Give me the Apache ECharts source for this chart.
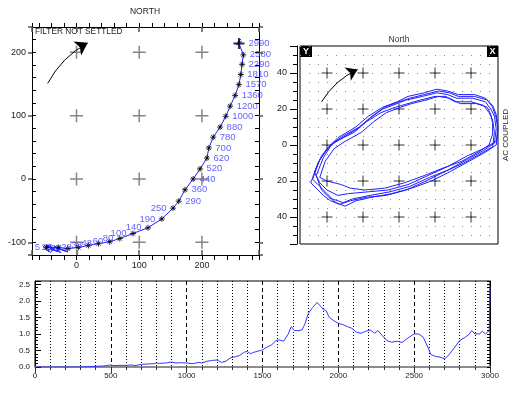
<!DOCTYPE html>
<html><head><meta charset="utf-8">
<script src="https://cdn.jsdelivr.net/npm/echarts@6/dist/echarts.min.js"></script>
<style>html,body{margin:0;padding:0;background:#fff}#c{width:521px;height:396px}</style>
</head><body><div id="c"></div>
<script>
// ---------- Panel 1 : track with time labels ----------
const trackTimes = ['5','13','20','28','38','48','60','80','100','140','190','250','290','360','440','520','620','700','780','880','1000','1200','1360','1570','1810','2290','2580','2990'];
const trackX = [-48,-29,-14,3,19,35,53,69,90,114,136,154,163,173,186,197,208,211,218,229,238,245,253,259,262,264,266,259];
const trackY = [-108,-108,-110,-108,-105,-102,-99,-94,-86,-77,-63,-46,-35,-17,0,16,33,49,66,82,99,115,132,149,165,181,196,214];
const labelLeftCount = 12;
const startScribbleX = [-40,-50,-44,-53,-46,-38,-49,-42,-35,-47,-30,-41,-25,-36,-20,-14,-33,-48];
const startScribbleY = [-104,-110,-115,-106,-113,-108,-104,-116,-110,-107,-114,-111,-116,-106,-113,-115,-109,-108];
const endScribbleX = [263,255,262,257,261];
const endScribbleY = [217,212,221,216,213];
const crossX1 = [0,100,200];
const crossY1 = [-100,0,100,200];
const arrow1 = [[-46,151],[18,215]];

// ---------- Panel 2 : hodograph loops ----------
const loopA = [[-48,-19],[-44,-8],[-38,0],[-33,3],[-23,9],[-16,15],[-9,20],[-1,23],[4,25],[13,27],[21,29],[27,28],[32,26],[41,26],[48,24],[51,20],[53,16],[54,9],[53,1],[47,-3],[38,-8],[27,-14],[17,-18],[6,-23],[-5,-26],[-16,-28],[-26,-30],[-31,-32],[-37,-30],[-40,-27],[-44,-23],[-48,-19]];
const loopB = [[-46,-17],[-42,-7],[-37,1],[-31,5],[-22,10],[-15,16],[-8,21],[0,24],[6,26],[14,28],[22,30],[28,29],[33,27],[42,27],[49,25],[52,21],[54,15],[55,8],[54,0],[48,-4],[39,-9],[28,-15],[18,-20],[7,-24],[-4,-27],[-15,-29],[-24,-31],[-30,-34],[-35,-32],[-39,-29],[-43,-25],[-46,-17]];
const loopC = [[-49,-21],[-45,-10],[-40,-2],[-35,2],[-25,7],[-18,13],[-10,18],[-2,21],[5,23],[12,25],[20,27],[26,27],[31,24],[40,24],[47,22],[50,18],[52,14],[53,7],[52,-1],[45,-5],[36,-10],[25,-15],[15,-20],[4,-25],[-7,-28],[-18,-29],[-27,-31],[-33,-33],[-38,-31],[-42,-28],[-46,-24],[-49,-21]];
const loopD = [[-44,-18],[-41,-9],[-36,-2],[-30,2],[-21,7],[-14,13],[-7,18],[1,21],[7,23],[15,25],[22,27],[28,26],[34,23],[43,23],[49,21],[51,17],[52,12],[52,6],[50,0],[44,-4],[35,-9],[24,-13],[14,-17],[3,-21],[-8,-24],[-19,-25],[-27,-24],[-32,-22],[-36,-21],[-40,-20],[-44,-18]];
const loopE = [[-47,-15],[-43,-6],[-39,-1],[-34,4],[-24,10],[-17,16],[-9,21],[-1,24],[5,27],[14,29],[21,31],[27,30],[33,28],[42,28],[48,26],[52,22],[54,17],[55,10],[54,2],[47,-2],[38,-6],[27,-12],[16,-17],[5,-22],[-6,-25],[-17,-26],[-28,-27],[-34,-28],[-40,-25],[-44,-21],[-47,-15]];
const crossX2 = [-40,-20,0,20,40];
const crossY2 = [-40,-20,0,20,40];
const arrow2 = [[-43,24],[-23,42]];

// ---------- Panel 3 : spectrum ----------
const specX = [0,100,200,300,350,400,450,480,500,520,560,600,640,660,700,740,780,800,820,860,900,930,960,1000,1040,1080,1100,1130,1170,1200,1230,1260,1290,1320,1350,1380,1400,1420,1440,1480,1500,1530,1560,1590,1610,1640,1670,1690,1710,1740,1760,1780,1800,1830,1860,1880,1900,1920,1940,1970,2000,2030,2060,2090,2120,2150,2180,2210,2240,2260,2290,2320,2350,2390,2420,2460,2500,2530,2560,2590,2610,2640,2670,2700,2720,2760,2800,2830,2860,2880,2900,2930,2950,2970,2995,3000];
const specY = [0,0,0,0,0.01,0.02,0.03,0.05,0.06,0.04,0.05,0.05,0.06,0.04,0.08,0.09,0.1,0.12,0.11,0.12,0.15,0.12,0.13,0.12,0.1,0.14,0.12,0.17,0.2,0.21,0.14,0.18,0.28,0.31,0.35,0.45,0.47,0.4,0.44,0.49,0.52,0.6,0.67,0.8,0.82,0.78,1.0,1.22,1.1,1.1,1.12,1.3,1.6,1.8,1.95,1.85,1.75,1.7,1.5,1.4,1.32,1.28,1.22,1.17,1.05,1.02,1.08,1.12,1.02,1.1,0.95,0.8,0.75,0.78,0.74,0.88,1.0,1.0,0.9,0.6,0.38,0.32,0.3,0.25,0.32,0.55,0.8,0.88,0.98,1.1,1.0,1.0,1.08,1.0,1.1,2.4];

// ---------- build ----------
const FONT = 'Liberation Sans';
const TXT = '#222';
const plusPath = 'path://M5,0L5,10M0,5L10,5';
const starPath = 'path://M5,0L5,10M0,5L10,5M1.5,1.5L8.5,8.5M1.5,8.5L8.5,1.5';
const fmt100 = v => (Math.abs(v - Math.round(v / 100) * 100) < 1e-6 ? String(Math.round(v)) : '');

const trackLine = [];
startScribbleX.forEach((x, i) => trackLine.push([x, startScribbleY[i]]));
trackX.forEach((x, i) => trackLine.push([x, trackY[i]]));
endScribbleX.forEach((x, i) => trackLine.push([x, endScribbleY[i]]));

const stars = trackX.map((x, i) => {
  const last = i === trackX.length - 1;
  return {
    value: [x, trackY[i]], name: trackTimes[i],
    symbol: last ? plusPath : starPath,
    symbolSize: last ? 11 : 6,
    itemStyle: last ? {color: 'transparent', borderColor: '#000', borderWidth: 2} : undefined,
    label: {position: i < labelLeftCount ? 'left' : 'right', distance: 3}
  };
});
const cross1 = [];
crossX1.forEach(x => crossY1.forEach(y => cross1.push([x, y])));
const cross2 = [];
crossX2.forEach(x => crossY2.forEach(y => cross2.push([x, y])));

const lbl = (o) => Object.assign({fontFamily: FONT, color: TXT}, o);
const line = (show, extra) => Object.assign({show: show, onZero: false, lineStyle: {color: '#000', width: 1}}, extra || {});

const option = {
  animation: false,
  backgroundColor: '#fff',
  grid: [
    {left: 32, top: 27, width: 227, height: 228, show: false},
    {left: 300, top: 46, width: 198, height: 198, show: true, borderColor: '#000', borderWidth: 1, backgroundColor: 'transparent'},
    {left: 35, top: 281, width: 455, height: 86, show: true, borderColor: '#000', borderWidth: 1, backgroundColor: 'transparent'}
  ],
  xAxis: [
    {gridIndex: 0, type: 'value', position: 'bottom', min: -71, max: 291, minInterval: 20, maxInterval: 20,
     axisLine: line(true), axisTick: {show: true, inside: false, length: 5, lineStyle: {color: '#000'}},
     axisLabel: lbl({fontSize: 9, formatter: fmt100, margin: 6}), splitLine: {show: false}},
    {gridIndex: 0, type: 'value', position: 'top', min: -71, max: 291, minInterval: 20, maxInterval: 20,
     axisLine: line(true), axisTick: {show: true, inside: false, length: 4, lineStyle: {color: '#000'}},
     axisLabel: {show: false}, splitLine: {show: false}},
    {gridIndex: 0, type: 'value', position: 'bottom', min: -71, max: 291, minInterval: 100, maxInterval: 100,
     axisLine: line(false), axisTick: {show: true, inside: true, length: 5, lineStyle: {color: '#555', width: 1.5}},
     axisLabel: {show: false}, splitLine: {show: false}},
    {gridIndex: 0, type: 'value', position: 'top', min: -71, max: 291, minInterval: 100, maxInterval: 100,
     axisLine: line(false), axisTick: {show: true, inside: true, length: 5, lineStyle: {color: '#555', width: 1.5}},
     axisLabel: {show: false}, splitLine: {show: false}},
    {gridIndex: 1, type: 'value', min: -55, max: 55, interval: 5,
     axisLine: line(false), axisTick: {show: false}, axisLabel: {show: false},
     splitLine: {show: true, lineStyle: {color: '#8a8a8a', width: 1, type: [1, 8]}}},
    {gridIndex: 2, type: 'value', min: 0, max: 3000, interval: 500,
     axisLine: line(true, {lineStyle: {color: '#8c8c8c', width: 2}}),
     axisTick: {show: true, length: 6, lineStyle: {color: '#333'}},
     minorTick: {show: true, splitNumber: 5, length: 3, lineStyle: {color: '#333'}},
     axisLabel: lbl({fontSize: 8, margin: 5, formatter: v => String(Math.round(v))}),
     splitLine: {show: true, lineStyle: {color: '#000', width: 1, type: [4, 3]}},
     minorSplitLine: {show: true, lineStyle: {color: '#000', width: 1, type: [1, 2]}}}
  ],
  yAxis: [
    {gridIndex: 0, type: 'value', position: 'left', min: -120, max: 240, interval: 20,
     axisLine: line(true), axisTick: {show: true, inside: true, length: 4, lineStyle: {color: '#000'}},
     axisLabel: lbl({fontSize: 9, formatter: fmt100, margin: 6}), splitLine: {show: false}},
    {gridIndex: 0, type: 'value', position: 'right', min: -120, max: 240, interval: 20,
     axisLine: line(true), axisTick: {show: true, inside: true, length: 4, lineStyle: {color: '#000'}},
     axisLabel: {show: false}, splitLine: {show: false}},
    {gridIndex: 0, type: 'value', position: 'left', min: -120, max: 240, minInterval: 100, maxInterval: 100,
     axisLine: line(false), axisTick: {show: true, inside: false, length: 4, lineStyle: {color: '#555', width: 1.5}},
     axisLabel: {show: false}, splitLine: {show: false}},
    {gridIndex: 0, type: 'value', position: 'right', min: -120, max: 240, minInterval: 100, maxInterval: 100,
     axisLine: line(false), axisTick: {show: true, inside: false, length: 4, lineStyle: {color: '#555', width: 1.5}},
     axisLabel: {show: false}, splitLine: {show: false}},
    {gridIndex: 1, type: 'value', position: 'left', offset: 3, min: -55, max: 55, interval: 5,
     axisLine: line(true), axisTick: {show: true, inside: false, length: 4, lineStyle: {color: '#000'}},
     axisLabel: {show: false}, splitLine: {show: false}},
    {gridIndex: 1, type: 'value', position: 'left', offset: 3, min: -55, max: 55, minInterval: 20, maxInterval: 20,
     axisLine: line(false), axisTick: {show: true, inside: false, length: 7, lineStyle: {color: '#000'}},
     axisLabel: lbl({fontSize: 9, margin: 10, formatter: v => (Math.abs(v % 20) < 1e-6 ? String(Math.abs(v)) : '')}),
     splitLine: {show: false}},
    {gridIndex: 2, type: 'value', position: 'left', min: 0, max: 2.6, interval: 0.1,
     axisLine: line(true), axisTick: {show: true, inside: true, length: 3, lineStyle: {color: '#000'}},
     axisLabel: {show: false}, splitLine: {show: false}},
    {gridIndex: 2, type: 'value', position: 'left', min: 0, max: 2.6, interval: 0.5,
     axisLine: line(false), axisTick: {show: true, inside: true, length: 6, lineStyle: {color: '#000'}},
     axisLabel: lbl({fontSize: 8, margin: 5, formatter: v => (Math.abs(v * 2 - Math.round(v * 2)) < 1e-6 ? v.toFixed(1) : '')}),
     splitLine: {show: false}},
    {gridIndex: 2, type: 'value', position: 'right', min: 0, max: 2.6, interval: 0.1,
     axisLine: line(true), axisTick: {show: true, inside: true, length: 3, lineStyle: {color: '#000'}},
     axisLabel: {show: false}, splitLine: {show: false}}
  ],
  series: [
    {type: 'scatter', xAxisIndex: 0, yAxisIndex: 0, data: cross1, symbol: plusPath, symbolSize: 13, silent: true,
     itemStyle: {color: 'transparent', borderColor: '#666', borderWidth: 1.5}, z: 1},
    {type: 'line', xAxisIndex: 0, yAxisIndex: 0, data: trackLine, showSymbol: false, symbol: 'none',
     lineStyle: {color: '#2020ff', width: 1}, z: 2, silent: true},
    {type: 'scatter', xAxisIndex: 0, yAxisIndex: 0, data: stars, symbol: starPath, symbolSize: 6,
     itemStyle: {color: 'transparent', borderColor: '#000', borderWidth: 1}, z: 3,
     label: {show: true, formatter: p => p.name, color: '#3a3aff', fontSize: 9.5, fontFamily: FONT}},
    {type: 'lines', coordinateSystem: 'cartesian2d', xAxisIndex: 0, yAxisIndex: 0,
     data: [{coords: arrow1}], symbol: ['none', 'arrow'], symbolSize: 12,
     lineStyle: {color: '#000', width: 1, curveness: 0.15, opacity: 1}, z: 4},
    {type: 'scatter', xAxisIndex: 4, yAxisIndex: 4, data: cross2, symbol: plusPath, symbolSize: 11, silent: true,
     itemStyle: {color: 'transparent', borderColor: '#000', borderWidth: 1}, z: 1},
    ...[loopA, loopB, loopC, loopD, loopE].map(L => ({
      type: 'line', xAxisIndex: 4, yAxisIndex: 4, data: L, showSymbol: false, symbol: 'none',
      lineStyle: {color: '#1f1fff', width: 1}, z: 2, silent: true})),
    {type: 'lines', coordinateSystem: 'cartesian2d', xAxisIndex: 4, yAxisIndex: 4,
     data: [{coords: arrow2}], symbol: ['none', 'arrow'], symbolSize: 11,
     lineStyle: {color: '#000', width: 1, curveness: 0.15, opacity: 1}, z: 4},
    {type: 'line', xAxisIndex: 5, yAxisIndex: 6, data: specX.map((x, i) => [x, specY[i]]),
     showSymbol: false, symbol: 'none', lineStyle: {color: '#3535ff', width: 1}, z: 3, silent: true}
  ],
  graphic: [
    {type: 'text', x: 145, y: 12, style: {text: 'NORTH', font: '8.5px ' + FONT, fill: TXT, align: 'center', verticalAlign: 'middle'}},
    {type: 'text', x: 35, y: 32, style: {text: 'FILTER NOT SETTLED', font: '8.3px ' + FONT, fill: TXT, align: 'left', verticalAlign: 'middle'}},
    {type: 'text', x: 399, y: 40, style: {text: 'North', font: '8.5px ' + FONT, fill: '#333', align: 'center', verticalAlign: 'middle'}},
    {type: 'rect', shape: {x: 300, y: 46, width: 12, height: 11}, style: {fill: '#000'}},
    {type: 'text', x: 306, y: 51.5, style: {text: 'Y', font: 'bold 9px ' + FONT, fill: '#fff', align: 'center', verticalAlign: 'middle'}},
    {type: 'rect', shape: {x: 487, y: 46, width: 11, height: 11}, style: {fill: '#000'}},
    {type: 'text', x: 492.5, y: 51.5, style: {text: 'X', font: 'bold 9px ' + FONT, fill: '#fff', align: 'center', verticalAlign: 'middle'}},
    {type: 'text', x: 506, y: 135, rotation: Math.PI / 2, style: {text: 'AC COUPLED', font: '8px ' + FONT, fill: TXT, align: 'center', verticalAlign: 'middle'}}
  ]
};
const chart = echarts.init(document.getElementById('c'), null, {renderer: 'canvas'});
chart.setOption(option);
</script></body></html>
